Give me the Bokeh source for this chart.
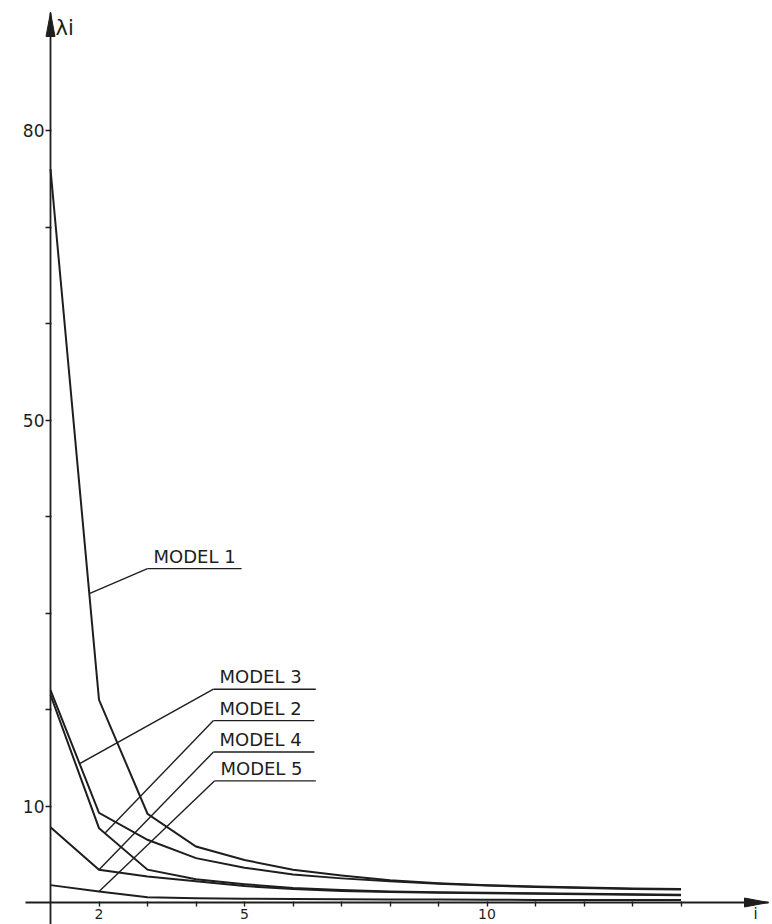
import numpy as np
from bokeh.plotting import figure
from bokeh.models import Range1d, FixedTicker, ColumnDataSource, Label
from bokeh.core.properties import value
from bokeh.embed import file_html
from bokeh.resources import INLINE

# ---------------- data ----------------
i_vals = list(range(1, 15))
model1 = [76.0, 21.0, 9.2, 5.8, 4.4, 3.4, 2.8, 2.3, 2.0, 1.8, 1.65, 1.55, 1.45, 1.4]
model3 = [22.0, 9.3, 6.5, 4.6, 3.6, 2.9, 2.5, 2.2, 1.95, 1.75, 1.6, 1.5, 1.4, 1.35]
model2 = [21.5, 7.7, 3.4, 2.4, 1.9, 1.5, 1.3, 1.15, 1.05, 1.0, 0.95, 0.9, 0.85, 0.8]
model4 = [7.8, 3.4, 2.7, 2.2, 1.7, 1.4, 1.2, 1.1, 1.0, 0.95, 0.9, 0.85, 0.8, 0.75]
model5 = [1.8, 1.15, 0.55, 0.45, 0.4, 0.35, 0.33, 0.3, 0.3, 0.28, 0.27, 0.26, 0.25, 0.25]

x_ticks = list(range(2, 15))
x_tick_text = {2: "2", 5: "5", 10: "10"}
y_ticks = [10, 20, 30, 40, 50, 60, 70, 80]
y_tick_text = {10: "10", 50: "50", 80: "80"}

label_names = ["MODEL 1", "MODEL 3", "MODEL 2", "MODEL 4", "MODEL 5"]
label_series = [model1, model3, model2, model4, model5]
# annotation placement (data units)
label_start = [3.0, 4.36, 4.36, 4.36, 4.38]
label_end = [4.94, 6.47, 6.44, 6.44, 6.47]
label_level = [34.6, 22.1, 18.85, 15.6, 12.6]
leader_at = [1.8, 1.6, 2.12, 2.0, 2.0]

# ---------------- geometry ----------------
W, H = 772, 924
PX_X = 48.5     # pixels per unit of i
PX_Y = 9.65     # pixels per unit of lambda
AX_X = 50       # pixel column of i = 1
AX_Y = 902      # pixel row of lambda = 0
X0 = 1 - AX_X / PX_X
Y0 = -(H - AX_Y) / PX_Y
INK = "#1e1e1e"
FONT = "DejaVu Sans"

p = figure(width=W, height=H,
           x_range=Range1d(X0, X0 + W / PX_X),
           y_range=Range1d(Y0, Y0 + H / PX_Y),
           output_backend="svg", toolbar_location=None,
           min_border=0, min_border_left=0, min_border_right=0,
           min_border_top=0, min_border_bottom=0)
p.grid.visible = False
p.outline_line_color = None
p.background_fill_color = "white"

# axes drawn at data locations
p.xaxis.fixed_location = 0
p.yaxis.fixed_location = 1
for ax in (p.xaxis, p.yaxis):
    ax.axis_line_color = None
    ax.major_tick_line_color = INK
    ax.major_tick_line_width = 1.4
    ax.minor_tick_line_color = None
    ax.major_label_text_font = FONT
    ax.major_label_text_color = INK
p.xaxis.ticker = FixedTicker(ticks=x_ticks)
p.xaxis.major_label_overrides = {t: x_tick_text.get(t, "") for t in x_ticks}
p.xaxis.major_tick_out = 4
p.xaxis.major_tick_in = 1
p.xaxis.major_label_standoff = 2
p.xaxis.major_label_text_font_size = "14px"
p.yaxis.ticker = FixedTicker(ticks=y_ticks)
p.yaxis.major_label_overrides = {t: y_tick_text.get(t, "") for t in y_ticks}
p.yaxis.major_tick_out = 5
p.yaxis.major_tick_in = 1
p.yaxis.major_label_standoff = 1
p.yaxis.major_label_text_font_size = "17px"

# axis lines with arrow heads
x_tip = X0 + 768 / PX_X
y_tip = Y0 + (H - 12) / PX_Y
p.segment(x0=[X0 + 25 / PX_X, 1], y0=[0, Y0], x1=[x_tip, 1], y1=[0, y_tip],
          line_color=INK, line_width=1.8)
ah_len, ah_half = 24, 4.5
p.patches(xs=[[1, 1 - ah_half / PX_X, 1 + ah_half / PX_X],
              [x_tip, x_tip - ah_len / PX_X, x_tip - ah_len / PX_X]],
          ys=[[y_tip, y_tip - ah_len / PX_Y, y_tip - ah_len / PX_Y],
              [0, ah_half / PX_Y, -ah_half / PX_Y]],
          fill_color=INK, line_color=INK)

# curves
for s in [model1, model3, model2, model4, model5]:
    p.line(i_vals, s, line_color=INK, line_width=2.0, line_join="miter")

# leaders, underlines and labels
lx0, ly0, lx1, ly1 = [], [], [], []
for k, s in enumerate(label_series):
    y_end = float(np.interp(leader_at[k], i_vals, s))
    lx0 += [label_start[k], label_start[k]]
    ly0 += [label_level[k], label_level[k]]
    lx1 += [label_end[k], leader_at[k]]
    ly1 += [label_level[k], y_end]
p.segment(x0=lx0, y0=ly0, x1=lx1, y1=ly1, line_color=INK, line_width=1.4)

src = ColumnDataSource(dict(x=[a + 6 / PX_X for a in label_start],
                            y=[l + 2 / PX_Y for l in label_level],
                            t=label_names))
p.text(x="x", y="y", text="t", source=src, text_font=value(FONT),
       text_font_size="18px", text_color=INK, text_baseline="bottom",
       text_align="left")

p.add_layout(Label(x=X0 + 55 / PX_X, y=(AX_Y - 39) / PX_Y, text="λi",
                   text_font=FONT, text_font_size="21px", text_color=INK,
                   text_baseline="bottom"))
p.add_layout(Label(x=X0 + 753 / PX_X, y=-(904 - AX_Y) / PX_Y, text="i",
                   text_font=FONT, text_font_size="15px", text_color=INK,
                   text_baseline="top"))

open("out.html", "w").write(file_html(p, INLINE))
